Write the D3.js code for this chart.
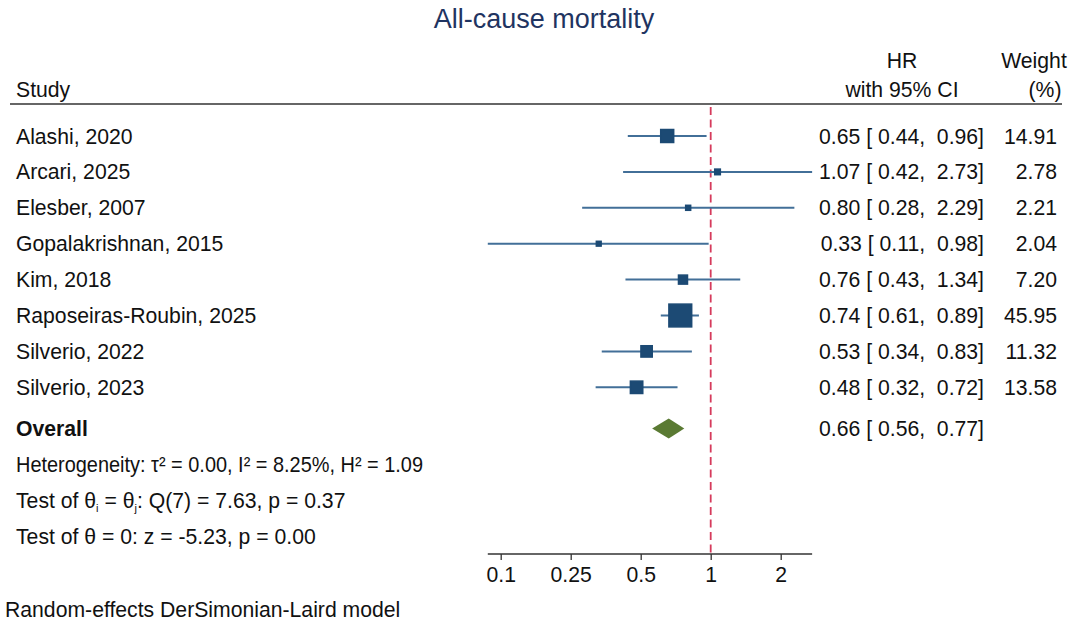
<!DOCTYPE html>
<html>
<head>
<meta charset="utf-8">
<script src="https://cdn.jsdelivr.net/npm/d3@7"></script>
<style>
    body { margin: 0; background: #fff; }
    svg { display: block; font-family: "Liberation Sans", Arial, Helvetica, sans-serif; }
    .txt { font-size: 21.2px; fill: #111; white-space: pre; }
</style>
</head>
<body>
<svg id="svg"></svg>
<script>
//data
let studies = ['Alashi, 2020', 'Arcari, 2025', 'Elesber, 2007', 'Gopalakrishnan, 2015', 'Kim, 2018',
    'Raposeiras-Roubin, 2025', 'Silverio, 2022', 'Silverio, 2023']
let hr = [0.65, 1.07, 0.80, 0.33, 0.76, 0.74, 0.53, 0.48]
let lower = [0.44, 0.42, 0.28, 0.11, 0.43, 0.61, 0.34, 0.32]
let upper = [0.96, 2.73, 2.29, 0.98, 1.34, 0.89, 0.83, 0.72]
let weights = [14.91, 2.78, 2.21, 2.04, 7.20, 45.95, 11.32, 13.58]
let overall = [0.66, 0.56, 0.77]
let tickVals = [0.125, 0.25, 0.5, 1, 2]
let tickLabels = ['0.1', '0.25', '0.5', '1', '2']

//declarations
let width = 1080
let height = 629
let svg = d3.select('#svg').attr('width', width).attr('height', height)
let f2 = d3.format('.2f')
let blue = '#1c4a74'
let ciBlue = '#426f98'

//x is log scale, y maps row index to pixel
let x = d3.scaleLog().domain([0.125, 2]).range([500.7, 780.7])
let y = d3.scaleLinear().domain([0, 1]).range([136, 171.9])
let size = d3.scaleSqrt().domain([0, d3.max(weights)]).range([0, 22.8])
let overallRow = 8.15

//title
svg.append('text')
    .attr('x', 544).attr('y', 28)
    .attr('text-anchor', 'middle')
    .attr('font-size', 27)
    .attr('fill', '#1f3461')
    .text('All-cause mortality')

//header
let head = svg.append('g')
head.append('text').attr('class', 'txt').attr('x', 16).attr('y', 97).text('Study')
head.append('text').attr('class', 'txt').attr('x', 902).attr('y', 68).attr('text-anchor', 'middle').text('HR')
head.append('text').attr('class', 'txt').attr('x', 902).attr('y', 97).attr('text-anchor', 'middle').text('with 95% CI')
head.append('text').attr('class', 'txt').attr('x', 1034).attr('y', 68).attr('text-anchor', 'middle').text('Weight')
head.append('text').attr('class', 'txt').attr('x', 1045).attr('y', 97).attr('text-anchor', 'middle').text('(%)')
svg.append('line')
    .attr('x1', 10).attr('x2', 1062)
    .attr('y1', 104).attr('y2', 104)
    .attr('stroke', '#333').attr('stroke-width', 1.6)

//no-effect line
svg.append('line')
    .attr('x1', x(1)).attr('x2', x(1))
    .attr('y1', 107).attr('y2', 556)
    .attr('stroke', '#d63b5c').attr('stroke-width', 1.8)
    .attr('stroke-dasharray', '8,4.5')

//study rows
let rows = svg.append('g')
    .selectAll('g')
    .data(studies)
    .join('g')

rows.append('text')
    .attr('class', 'txt')
    .attr('x', 16).attr('y', (d, i) => y(i) + 7.5)
    .text(d => d)

rows.append('line')
    .attr('x1', (d, i) => x(lower[i]))
    .attr('x2', (d, i) => x(upper[i]))
    .attr('y1', (d, i) => y(i)).attr('y2', (d, i) => y(i))
    .attr('stroke', ciBlue).attr('stroke-width', 2)

rows.append('rect')
    .attr('x', (d, i) => x(hr[i]) - size(weights[i]) / 2)
    .attr('y', (d, i) => y(i) - size(weights[i]) / 2)
    .attr('width', (d, i) => size(weights[i]))
    .attr('height', (d, i) => size(weights[i]))
    .attr('fill', blue)
    .attr('stroke', blue).attr('stroke-width', 1.5)

rows.append('text')
    .attr('class', 'txt')
    .attr('x', 984).attr('y', (d, i) => y(i) + 7.5)
    .attr('text-anchor', 'end')
    .text((d, i) => `${f2(hr[i])} [ ${f2(lower[i])},  ${f2(upper[i])}]`)

rows.append('text')
    .attr('class', 'txt')
    .attr('x', 1057).attr('y', (d, i) => y(i) + 7.5)
    .attr('text-anchor', 'end')
    .text((d, i) => f2(weights[i]))

//overall diamond
let oy = y(overallRow)
svg.append('path')
    .attr('d', `M${x(overall[1])},${oy} L${x(overall[0])},${oy - 10} L${x(overall[2])},${oy} L${x(overall[0])},${oy + 10} Z`)
    .attr('fill', '#5a7a33')
svg.append('text')
    .attr('class', 'txt')
    .attr('x', 16).attr('y', oy + 7.5)
    .attr('font-weight', 'bold')
    .text('Overall')
svg.append('text')
    .attr('class', 'txt')
    .attr('x', 984).attr('y', oy + 7.5)
    .attr('text-anchor', 'end')
    .text(`${f2(overall[0])} [ ${f2(overall[1])},  ${f2(overall[2])}]`)

//heterogeneity notes
let het = svg.append('text').attr('class', 'txt').attr('x', 16).attr('y', y(overallRow + 1) + 7.5)
    .attr('textLength', 407).attr('lengthAdjust', 'spacingAndGlyphs')
het.text('Heterogeneity: τ² = 0.00, I² = 8.25%, H² = 1.09')

let t1 = svg.append('text').attr('class', 'txt').attr('x', 16).attr('y', y(overallRow + 2) + 7.5)
t1.append('tspan').text('Test of θ')
t1.append('tspan').attr('font-size', 11).attr('dy', 4).text('i')
t1.append('tspan').attr('dy', -4).text(' = θ')
t1.append('tspan').attr('font-size', 11).attr('dy', 4).text('j')
t1.append('tspan').attr('dy', -4).text(': Q(7) = 7.63, p = 0.37')

svg.append('text').attr('class', 'txt').attr('x', 16).attr('y', y(overallRow + 3) + 7.5)
    .text('Test of θ = 0: z = -5.23, p = 0.00')

//x axis
let axisG = svg.append('g').attr('transform', 'translate(0,554)')
axisG.append('line')
    .attr('x1', x(d3.min(lower))).attr('x2', x(d3.max(upper)))
    .attr('stroke', '#333').attr('stroke-width', 1.3)
let xAxis = d3.axisBottom(x)
    .tickValues(tickVals)
    .tickFormat((d, i) => tickLabels[i])
    .tickSize(6)
    .tickSizeOuter(0)
axisG.call(xAxis)
axisG.select('.domain').remove()
axisG.selectAll('.tick line').attr('stroke', '#333').attr('stroke-width', 1.3)
axisG.selectAll('.tick text')
    .attr('font-size', 21.2)
    .attr('font-family', '"Liberation Sans", Arial, sans-serif')
    .attr('fill', '#111')
    .attr('dy', null)
    .attr('y', 28)

//footer
svg.append('text')
    .attr('class', 'txt')
    .attr('x', 5).attr('y', 617)
    .attr('font-size', 19.6)
    .text('Random-effects DerSimonian-Laird model')
</script>
</body>
</html>
